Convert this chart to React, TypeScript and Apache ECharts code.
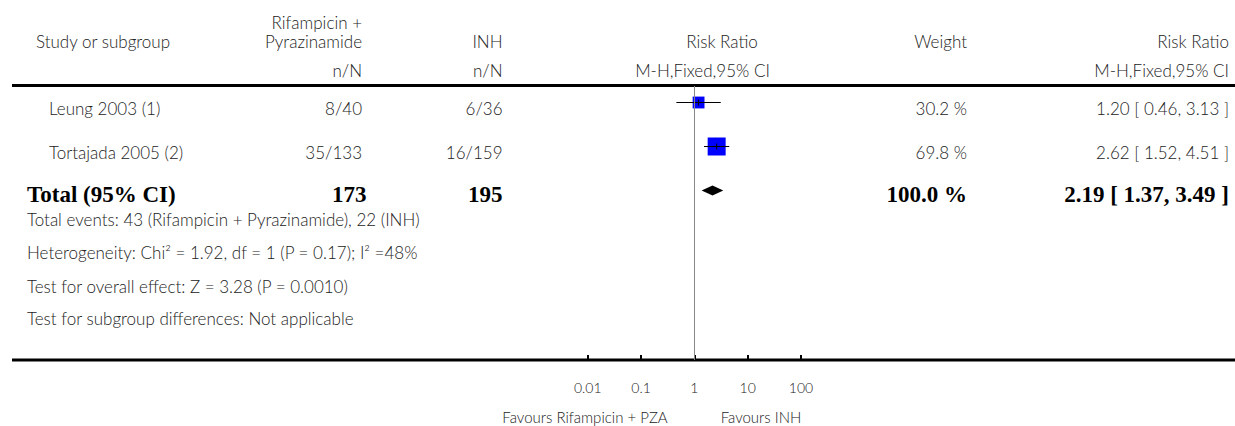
import React, { useEffect, useRef } from "react";
import * as echarts from "echarts";

// Study rows
const STUDIES = ["Leung 2003 (1)", "Tortajada 2005 (2)"];
const TREAT_NN = ["8/40", "35/133"];
const CTRL_NN = ["6/36", "16/159"];
const RISK_RATIO = [1.2, 2.62];
const CI_LOW = [0.46, 1.52];
const CI_HIGH = [3.13, 4.51];
const WEIGHTS = [30.2, 69.8];

// Pooled result
const TOTAL_LABEL = "Total (95% CI)";
const TOTAL_N = [173, 195];
const TOTAL_RR = [2.19, 1.37, 3.49];
const TOTAL_WEIGHT = 100.0;

const FOOTNOTES = [
  "Total events: 43 (Rifampicin + Pyrazinamide), 22 (INH)",
  "Heterogeneity: Chi\u00b2 = 1.92, df = 1 (P = 0.17); I\u00b2 =48%",
  "Test for overall effect: Z = 3.28 (P = 0.0010)",
  "Test for subgroup differences: Not applicable",
];

const AXIS_TICKS = [0.01, 0.1, 1, 10, 100];
const TICK_LABELS = ["0.01", "0.1", "1", "10", "100"];
const FAVOURS = ["Favours Rifampicin + PZA", "Favours INH"];

// Layout
const W = 1235;
const H = 426;
const SANS = "Lato, 'Open Sans', sans-serif";
const SERIF = "'Liberation Serif', 'DejaVu Serif', serif";
const TXT = "#222";
const FS = 17;
const FW = 300;
const BOLD_FS = 23;
const TOP_RULE_Y = 85.5;
const AXIS_Y = 360;
const PLOT_LEFT = 587.7;
const PLOT_WIDTH = 213.3;
const ROW_TEXT_DY = 5.5;
const SQUARE_SCALE = 18 / Math.sqrt(69.8);

const COL_NAME = 49;
const COL_TOTAL_NAME = 27;
const COL_TREAT = 362;
const COL_CTRL = 502.5;
const COL_WEIGHT = 967;
const COL_RR = 1229;

const fmt2 = (v: number) => v.toFixed(2);
const rrText = (r: number, l: number, h: number) => `${fmt2(r)} [ ${fmt2(l)}, ${fmt2(h)} ]`;

function txt(text: string, x: number, y: number, align: string, opts: any = {}) {
  return {
    type: "text",
    x,
    y,
    silent: true,
    style: {
      text,
      textAlign: align,
      textVerticalAlign: "middle",
      fill: opts.fill || TXT,
      fontFamily: opts.family || SANS,
      fontSize: opts.size || FS,
      fontWeight: opts.weight || FW,
    },
  };
}

export default function App() {
  const ref = useRef<HTMLDivElement>(null);

  useEffect(() => {
    if (!ref.current) return;
    const chart = echarts.init(ref.current, undefined, { renderer: "svg" });

    const studyData = STUDIES.map((_, i) => [RISK_RATIO[i], CI_LOW[i], CI_HIGH[i], WEIGHTS[i], i]);
    const totalRow = STUDIES.length;
    const totalData = [[TOTAL_RR[0], TOTAL_RR[1], TOTAL_RR[2], totalRow]];

    // y-axis unit = one table row; rows are 44px apart
    const rowPx = 44;
    const firstRowY = 102.5;
    const yMin = (TOP_RULE_Y + 0.5 - firstRowY) / rowPx;
    const yMax = (AXIS_Y - firstRowY) / rowPx;
    const rowY = (i: number) => firstRowY + i * rowPx;

    const graphics: any[] = [];
    // header
    graphics.push(txt("Study or subgroup", 36, 41.5, "left"));
    graphics.push(txt("Rifampicin +", COL_TREAT, 22, "right"));
    graphics.push(txt("Pyrazinamide", COL_TREAT, 41.5, "right"));
    graphics.push(txt("n/N", COL_TREAT, 70, "right"));
    graphics.push(txt("INH", COL_CTRL, 41.5, "right"));
    graphics.push(txt("n/N", COL_CTRL, 70, "right"));
    graphics.push(txt("Risk Ratio", 722, 41.5, "center"));
    graphics.push(txt("M-H,Fixed,95% CI", 702.5, 70, "center"));
    graphics.push(txt("Weight", COL_WEIGHT, 41.5, "right"));
    graphics.push(txt("Risk Ratio", COL_RR, 41.5, "right"));
    graphics.push(txt("M-H,Fixed,95% CI", COL_RR, 70, "right"));

    // rules
    graphics.push({
      type: "rect",
      silent: true,
      shape: { x: 12, y: TOP_RULE_Y - 1.5, width: W - 12, height: 3 },
      style: { fill: "#000" },
    });
    graphics.push({
      type: "rect",
      silent: true,
      shape: { x: 12, y: AXIS_Y - 1.5, width: W - 12, height: 3 },
      style: { fill: "#000" },
    });

    // study rows
    STUDIES.forEach((name, i) => {
      const y = rowY(i) + ROW_TEXT_DY;
      graphics.push(txt(name, COL_NAME, y, "left"));
      graphics.push(txt(TREAT_NN[i], COL_TREAT, y, "right"));
      graphics.push(txt(CTRL_NN[i], COL_CTRL, y, "right"));
      graphics.push(txt(`${WEIGHTS[i].toFixed(1)} %`, COL_WEIGHT, y, "right"));
      graphics.push(txt(rrText(RISK_RATIO[i], CI_LOW[i], CI_HIGH[i]), COL_RR, y, "right"));
    });

    // total row
    const ty = rowY(totalRow) + 4;
    const bold = { family: SERIF, size: BOLD_FS, weight: "bold", fill: "#000" };
    graphics.push(txt(TOTAL_LABEL, COL_TOTAL_NAME, ty, "left", bold));
    graphics.push(txt(String(TOTAL_N[0]), COL_TREAT + 4.5, ty, "right", bold));
    graphics.push(txt(String(TOTAL_N[1]), COL_CTRL, ty, "right", bold));
    graphics.push(txt(`${TOTAL_WEIGHT.toFixed(1)} %`, COL_WEIGHT, ty, "right", bold));
    graphics.push(txt(rrText(TOTAL_RR[0], TOTAL_RR[1], TOTAL_RR[2]), COL_RR, ty, "right", bold));

    // footnotes
    const footY = [219, 252, 286, 318];
    FOOTNOTES.forEach((f, i) => graphics.push(txt(f, COL_TOTAL_NAME, footY[i], "left")));

    // favours labels
    graphics.push(txt(FAVOURS[0], 585, 417, "center", { size: 15 }));
    graphics.push(txt(FAVOURS[1], 761, 417, "center", { size: 15 }));

    chart.setOption({
      animation: false,
      backgroundColor: "#fff",
      grid: {
        left: PLOT_LEFT,
        width: PLOT_WIDTH,
        top: TOP_RULE_Y + 0.5,
        bottom: H - AXIS_Y,
        containLabel: false,
      },
      xAxis: {
        type: "log",
        logBase: 10,
        min: AXIS_TICKS[0],
        max: AXIS_TICKS[AXIS_TICKS.length - 1],
        position: "bottom",
        axisLine: { show: false, onZero: false },
        axisTick: { show: true, inside: true, length: 5, lineStyle: { color: "#000", width: 2 } },
        splitLine: { show: false },
        axisLabel: {
          margin: 20,
          color: TXT,
          fontFamily: SANS,
          fontSize: 14,
          fontWeight: FW,
          formatter: (v: number) => {
            const idx = AXIS_TICKS.findIndex((t) => Math.abs(Math.log10(t) - Math.log10(v)) < 1e-6);
            return idx >= 0 ? TICK_LABELS[idx] : "";
          },
        },
      },
      yAxis: {
        type: "value",
        inverse: true,
        min: yMin,
        max: yMax,
        show: false,
      },
      series: [
        {
          type: "custom",
          name: "studies",
          clip: false,
          encode: { x: [0, 1, 2], y: 4 },
          data: studyData,
          renderItem: (_p: any, api: any) => {
            const row = api.value(4);
            const c = api.coord([api.value(0), row]);
            const l = api.coord([api.value(1), row]);
            const h = api.coord([api.value(2), row]);
            const s = SQUARE_SCALE * Math.sqrt(api.value(3));
            return {
              type: "group",
              children: [
                { type: "rect", shape: { x: c[0] - s / 2, y: c[1] - s / 2, width: s, height: s }, style: { fill: "#0000ff" } },
                { type: "line", shape: { x1: l[0], y1: c[1], x2: h[0], y2: c[1] }, style: { stroke: "#000", lineWidth: 1 } },
                { type: "line", shape: { x1: c[0], y1: c[1] - 3, x2: c[0], y2: c[1] + 3 }, style: { stroke: "#000", lineWidth: 1 } },
              ],
            };
          },
          markLine: {
            silent: true,
            symbol: "none",
            label: { show: false },
            lineStyle: { color: "#888", width: 1, type: "solid" },
            data: [{ xAxis: 1 }],
          },
          z: 3,
        },
        {
          type: "custom",
          name: "total",
          clip: false,
          encode: { x: [0, 1, 2], y: 3 },
          data: totalData,
          renderItem: (_p: any, api: any) => {
            const row = api.value(3);
            const c = api.coord([api.value(0), row]);
            const l = api.coord([api.value(1), row]);
            const h = api.coord([api.value(2), row]);
            return {
              type: "polygon",
              shape: { points: [[l[0], c[1]], [c[0], c[1] - 5], [h[0], c[1]], [c[0], c[1] + 5]] },
              style: { fill: "#000" },
            };
          },
          z: 3,
        },
      ],
      graphic: graphics,
    });

    return () => chart.dispose();
  }, []);

  return (
    <div
      ref={ref}
      style={{ position: "absolute", left: 0, top: 0, width: W, height: H, background: "#fff" }}
    />
  );
}
